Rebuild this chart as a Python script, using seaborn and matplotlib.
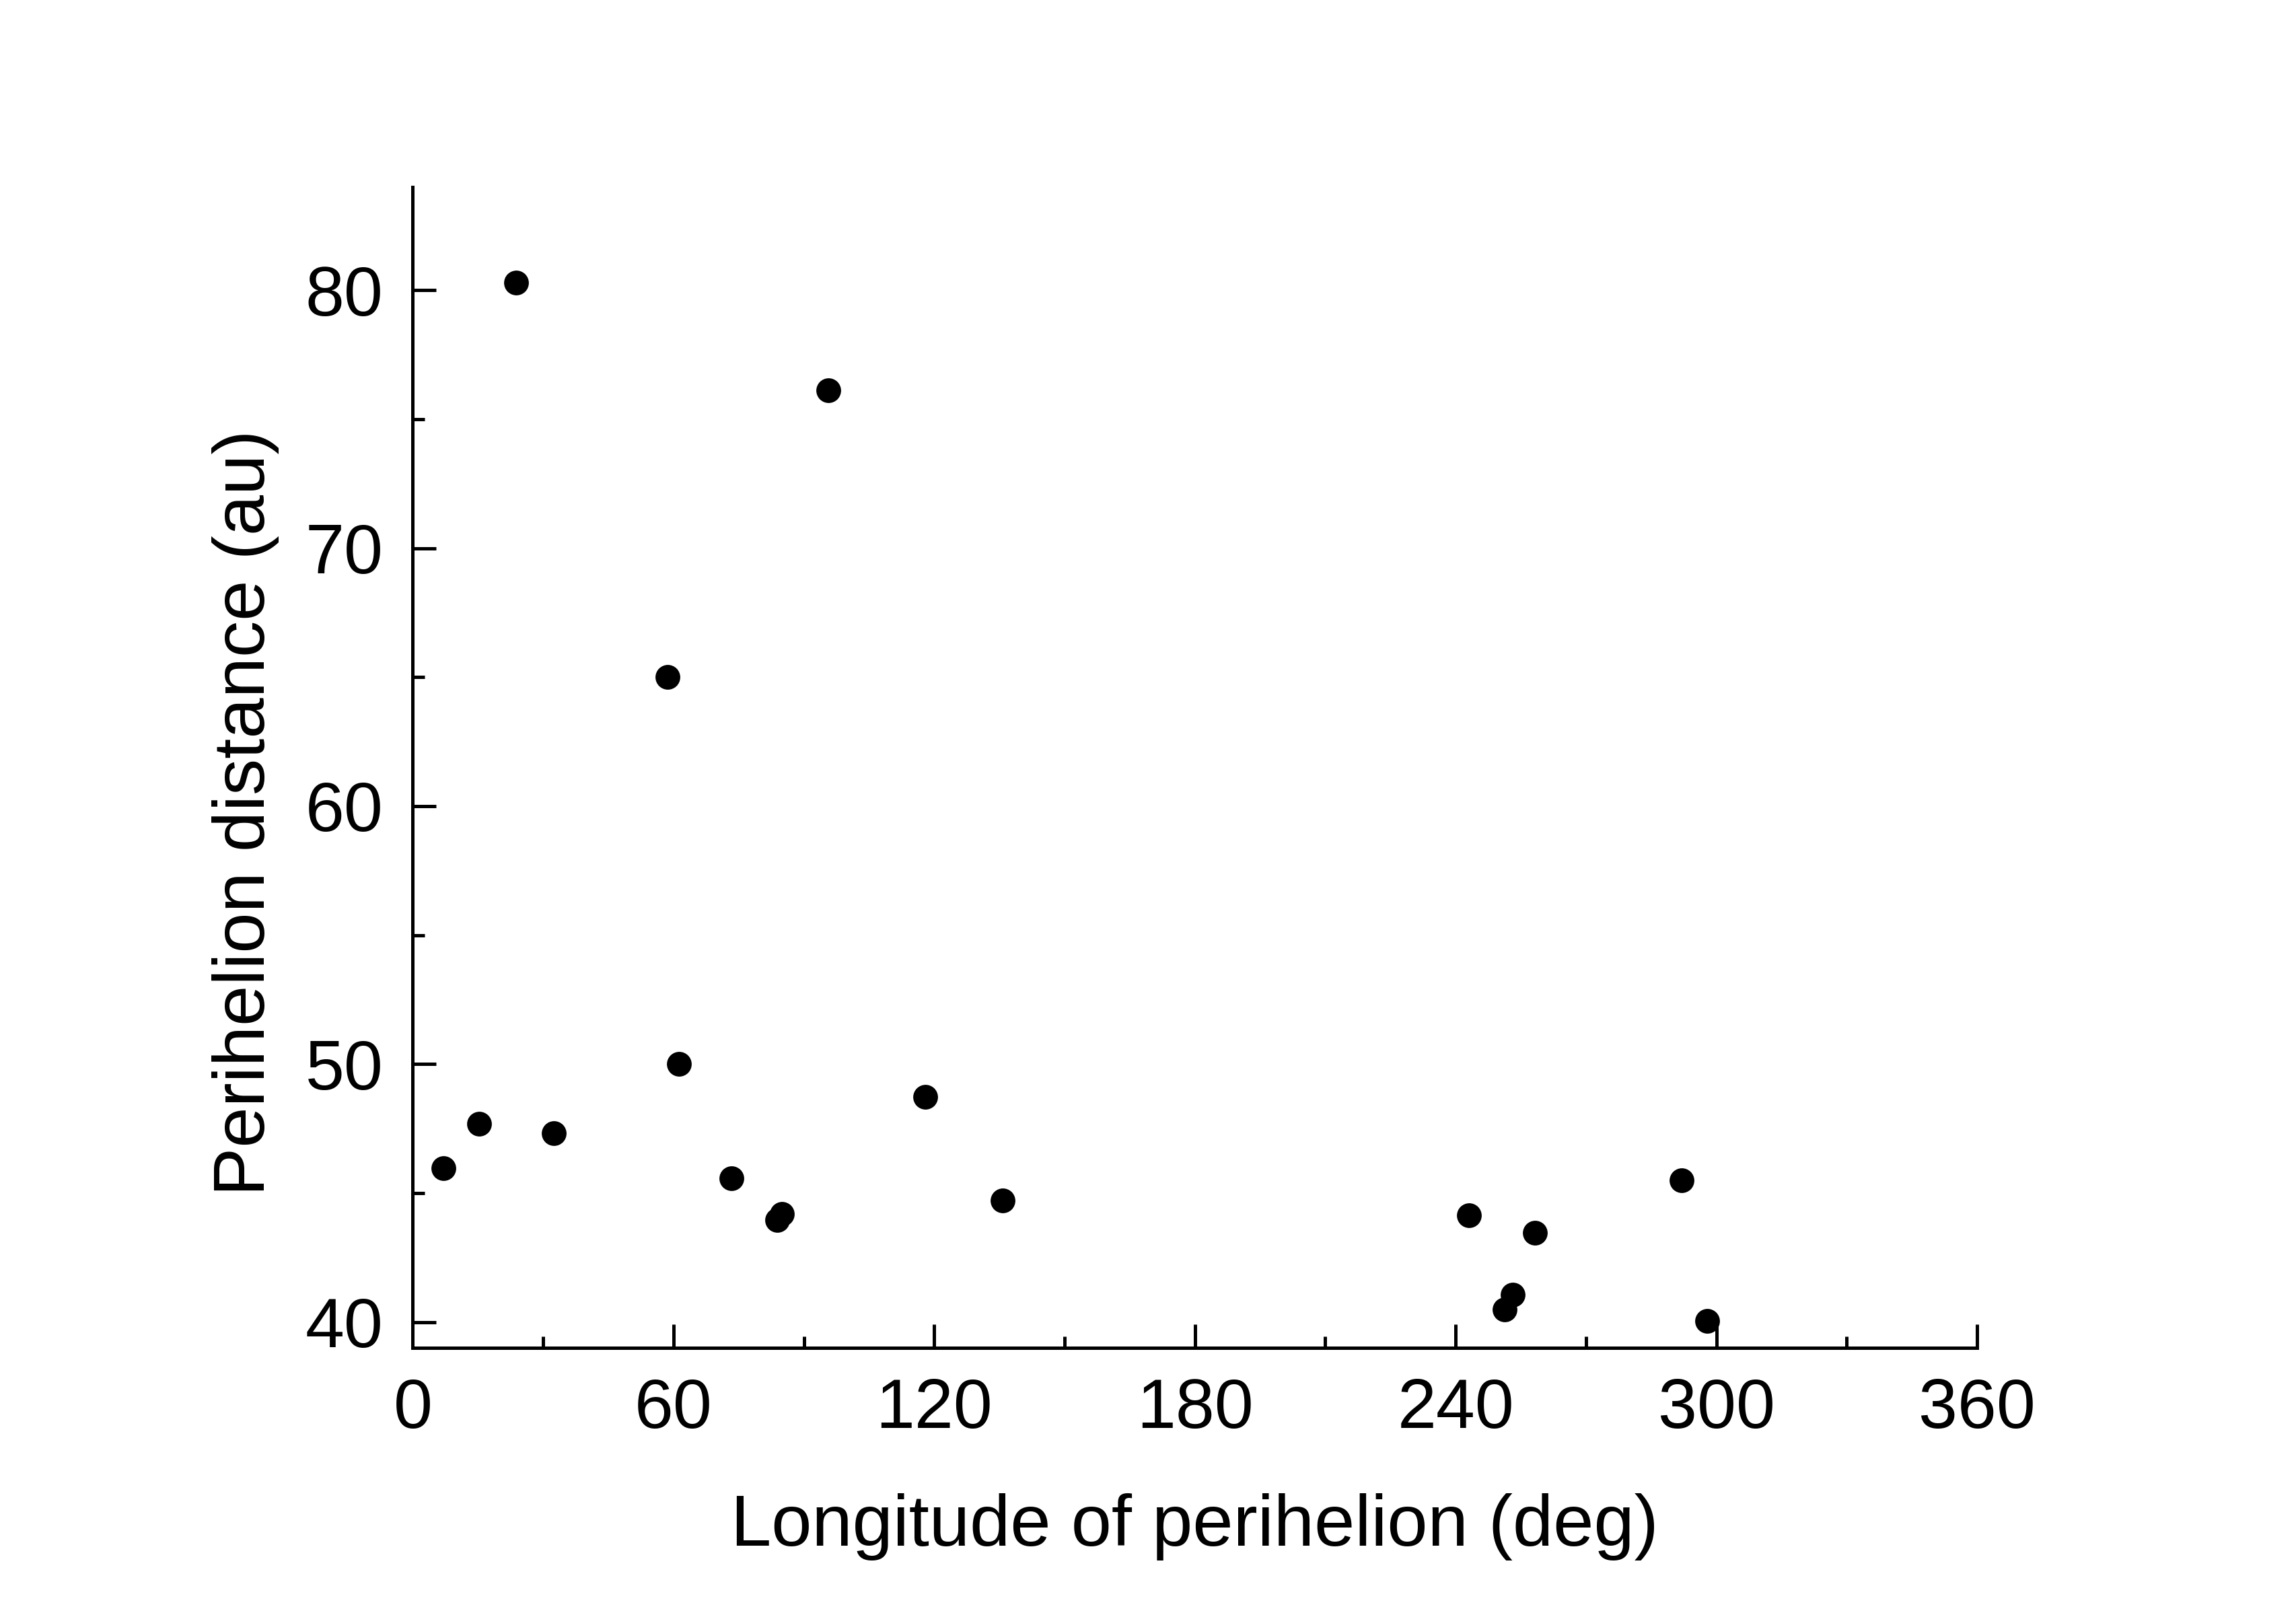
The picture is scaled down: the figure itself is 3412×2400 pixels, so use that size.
import matplotlib
matplotlib.use("Agg")
import matplotlib.pyplot as plt
from matplotlib.ticker import MultipleLocator
import pandas as pd
import seaborn as sns

# longitude of perihelion (deg) and perihelion distance (au)
longitude = [7.1, 15.3, 23.8, 32.5, 58.6, 61.3, 73.4, 83.8, 84.9, 95.6,
             117.9, 135.7, 243.0, 251.2, 253.2, 258.2, 292.0, 297.9]
perihelion = [45.97, 47.70, 80.30, 47.31, 65.00, 50.02, 45.58, 43.97, 44.18, 76.12,
              48.74, 44.71, 44.15, 40.49, 41.07, 43.47, 45.49, 40.05]

df = pd.DataFrame({"lon": longitude, "q": perihelion})

sns.set_style("ticks")
plt.rcParams['font.family'] = ['Liberation Sans', 'DejaVu Sans']
plt.rcParams['text.color'] = 'black'
plt.rcParams['axes.labelcolor'] = 'black'

fig = plt.figure(figsize=(3412 / 300, 2400 / 300), dpi=300)
ax = fig.add_axes([0.1798, 0.1654, 0.6813, 0.7188])

sns.scatterplot(data=df, x="lon", y="q", color="black", s=78, linewidth=0, ax=ax)

ax.set_xlim(0, 360)
ax.set_ylim(39, 84)
ax.xaxis.set_major_locator(MultipleLocator(60))
ax.xaxis.set_minor_locator(MultipleLocator(30))
ax.yaxis.set_major_locator(MultipleLocator(10))
ax.yaxis.set_minor_locator(MultipleLocator(5))

for side in ["top", "right"]:
    ax.spines[side].set_visible(False)
for side in ["left", "bottom"]:
    ax.spines[side].set_linewidth(1.2)
    ax.spines[side].set_color("black")

ax.tick_params(which="both", direction="in", width=1.2, color="black",
               labelsize=25, labelcolor="black")
ax.tick_params(which="major", length=8.4, pad=10.5)
ax.tick_params(which="minor", length=4.2)

ax.set_xlabel("Longitude of perihelion (deg)", fontsize=26, labelpad=18, color="black")
ax.set_ylabel("Perihelion distance (au)", fontsize=26, color="black")
ax.yaxis.set_label_coords(-0.0854, 0.461)

fig.savefig("out.png", dpi=300)
